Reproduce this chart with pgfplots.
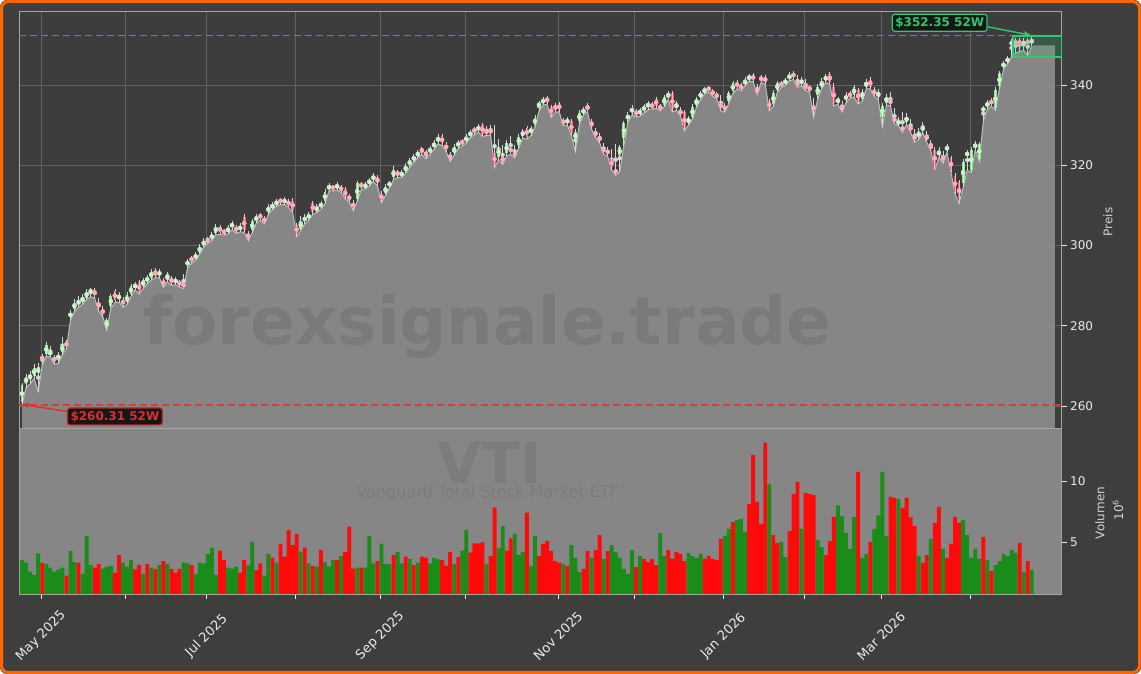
\documentclass[border=0pt]{standalone}
\usepackage{pgfplots}
\pgfplotsset{compat=1.18}
\usepackage{pgfplotstable}
\usepackage{fontspec}
\setmainfont{DejaVu Sans}
\usetikzlibrary{arrows.meta}

\definecolor{figbg}{RGB}{62,62,62}
\definecolor{axbg}{RGB}{61,61,61}
\definecolor{areagrey}{RGB}{134,134,134}
\definecolor{arealine}{RGB}{190,190,190}
\definecolor{gridc}{RGB}{98,98,98}
\definecolor{framec}{RGB}{165,165,165}
\definecolor{tickc}{RGB}{235,235,235}
\definecolor{orangeb}{RGB}{255,102,0}
\definecolor{vgreen}{RGB}{26,140,26}
\definecolor{vred}{RGB}{255,10,10}
\definecolor{cgreen}{RGB}{140,230,140}
\definecolor{cgreenin}{RGB}{205,240,205}
\definecolor{cred}{RGB}{245,85,120}
\definecolor{credin}{RGB}{255,175,190}
\definecolor{wickc}{RGB}{215,215,215}
\definecolor{hiG}{RGB}{46,200,110}
\definecolor{greendash}{RGB}{40,175,80}
\definecolor{loR}{RGB}{225,45,45}
\definecolor{reddash}{RGB}{215,60,60}
\definecolor{lblbg}{RGB}{22,22,22}
\definecolor{wmark}{RGB}{122,122,122}
\definecolor{wmarkb}{RGB}{124,124,124}

% all days: x open high low close
\pgfplotstableread{
x o h l c
-5 261.0 265.8 260.31 265.2
-4 265.6 267.9 264.6 267.3
-3 267.0 268.8 265.5 267.7
-2 267.5 270.5 266.9 269.5
-1 268.2 270.6 263.6 269.7
0 272.4 273.0 270.2 271.5
1 273.0 276.0 272.4 275.2
2 272.8 275.0 272.2 273.5
3 272.0 272.8 270.4 271.5
4 271.8 273.4 270.6 272.7
5 273.4 277.3 272.8 275.2
6 275.8 276.5 274.2 275.0
7 282.3 284.0 281.5 283.1
8 284.2 286.6 283.6 285.7
9 285.6 287.3 284.6 286.0
10 286.0 288.0 285.4 286.9
11 287.0 289.2 286.5 288.5
12 288.3 289.4 287.2 288.9
13 288.8 289.4 286.9 287.7
14 286.0 286.8 283.6 284.3
15 284.0 284.8 282.3 283.1
16 279.5 282.0 278.9 281.4
17 284.8 287.9 284.3 287.4
18 288.7 289.2 285.8 286.3
19 286.6 288.5 285.9 287.7
20 286.5 287.2 284.6 285.2
21 285.8 288.4 285.3 287.7
22 287.9 290.4 287.4 289.8
23 289.6 291.0 288.9 290.2
24 290.8 291.3 287.9 288.5
25 289.8 292.0 289.3 291.4
26 291.2 292.6 290.5 291.9
27 292.0 294.2 291.4 293.5
28 293.9 294.4 291.9 292.4
29 292.6 294.1 292.0 293.5
30 291.3 292.0 289.6 290.2
31 291.4 293.5 290.9 292.8
32 291.9 292.4 290.1 290.7
33 290.9 292.1 290.2 291.4
34 290.9 291.5 289.6 290.2
35 290.4 293.0 289.3 289.8
36 295.2 296.7 294.5 296.0
37 296.8 297.4 295.6 296.4
38 296.9 298.3 296.3 297.6
39 298.4 300.3 297.8 299.7
40 300.2 301.8 299.6 301.0
41 301.6 302.2 300.6 301.2
42 301.8 303.3 301.2 302.6
43 303.2 305.4 302.8 304.7
44 304.7 305.2 302.8 303.4
45 303.6 304.2 302.6 303.2
46 303.5 305.0 302.9 304.3
47 304.6 306.2 303.9 305.5
48 304.4 305.0 303.0 303.9
49 304.0 305.5 303.4 304.7
50 307.2 307.8 303.3 303.9
51 303.0 303.6 301.2 301.8
52 303.8 306.6 303.2 306.0
53 306.2 307.9 305.6 307.2
54 307.6 308.2 306.3 307.0
55 306.8 307.3 305.4 306.0
56 308.3 310.3 307.8 309.7
57 309.4 310.8 308.9 310.1
58 310.2 311.6 309.8 310.9
59 311.4 311.9 310.2 310.9
60 310.8 312.0 310.2 311.3
61 311.0 311.6 309.5 310.1
62 311.2 311.8 308.3 308.8
63 305.0 305.6 302.2 303.0
64 304.2 307.4 303.8 306.0
65 306.0 307.9 305.4 307.2
66 306.9 308.3 306.3 307.6
67 310.5 311.0 307.8 308.4
68 308.6 310.3 308.2 309.7
69 309.6 311.1 309.0 310.5
70 311.0 314.0 310.4 313.4
71 314.2 315.5 313.6 314.8
72 314.6 315.2 313.6 314.3
73 314.3 315.8 313.8 315.1
74 314.5 315.1 313.2 313.8
75 314.0 314.5 311.6 312.2
76 312.3 312.9 310.9 311.5
77 310.4 311.4 308.7 309.7
78 311.5 316.0 311.0 315.5
79 315.3 315.9 314.0 314.7
80 314.6 315.8 314.1 315.1
81 315.4 316.9 314.9 316.3
82 316.5 318.0 315.9 317.3
83 317.0 317.6 314.9 315.5
84 312.8 313.6 310.7 311.3
85 313.0 315.3 312.5 314.7
86 315.0 316.1 314.4 315.5
87 317.0 319.7 316.5 318.8
88 318.3 318.9 316.9 317.6
89 317.5 318.7 317.0 318.0
90 318.6 320.5 318.0 319.8
91 320.2 321.9 319.6 321.1
92 321.3 322.8 320.7 322.1
93 322.4 323.8 321.9 323.1
94 324.1 324.6 322.6 323.4
95 323.2 323.8 321.6 322.6
96 323.2 324.9 322.7 324.2
97 324.6 326.3 324.0 325.5
98 325.8 327.8 325.3 327.1
99 327.2 327.8 324.9 325.5
100 325.0 325.7 323.4 324.2
101 322.6 323.4 321.0 321.7
102 323.0 325.2 322.5 324.5
103 324.8 326.3 324.2 325.6
104 326.0 326.6 324.8 325.5
105 326.0 327.8 325.5 327.1
106 327.5 328.8 326.9 328.1
107 329.0 329.5 327.6 328.4
108 328.8 330.2 328.2 329.6
109 330.0 330.5 327.2 327.8
110 328.6 329.8 327.4 328.0
111 328.8 330.0 327.5 328.1
112 323.0 330.0 319.5 320.1
113 322.0 326.5 321.4 324.6
114 322.0 325.0 320.2 320.9
115 323.0 326.2 322.4 325.5
116 324.2 327.3 322.7 323.4
117 323.0 325.0 321.9 322.6
118 325.0 327.8 324.4 327.1
119 327.4 329.1 326.8 328.4
120 329.4 329.9 326.5 327.1
121 328.0 329.9 327.4 329.2
122 330.1 332.4 329.6 331.7
123 334.8 336.0 333.5 335.4
124 335.6 337.0 335.0 336.3
125 336.6 337.2 335.2 336.1
126 334.5 335.1 331.9 332.5
127 335.0 335.5 333.2 333.8
128 335.2 335.7 333.3 333.9
129 331.2 331.8 329.9 330.5
130 330.6 332.0 330.0 331.3
131 331.0 331.5 327.4 328.0
132 326.3 329.0 323.4 328.4
133 331.0 333.8 330.4 333.1
134 333.0 334.5 332.5 333.9
135 334.9 335.4 333.3 333.9
136 331.0 331.6 329.0 329.6
137 328.2 329.2 326.9 327.5
138 326.9 328.0 325.6 326.3
139 324.2 325.5 322.8 323.4
140 323.6 324.5 322.2 323.0
141 321.5 324.0 318.8 319.6
142 319.0 325.3 317.5 318.0
143 322.5 325.0 318.5 324.5
144 326.9 331.0 324.8 330.5
145 331.5 333.2 330.8 332.5
146 333.2 334.9 332.5 334.2
147 333.3 333.9 332.0 332.8
148 332.9 334.3 332.3 333.6
149 333.7 335.3 333.0 334.6
150 334.6 336.0 333.8 335.4
151 335.0 335.8 334.0 334.6
152 336.5 337.0 334.2 334.8
153 334.6 335.3 333.6 334.2
154 335.1 337.5 334.6 336.9
155 336.9 338.6 336.4 337.9
156 337.9 338.4 333.3 333.9
157 334.2 336.0 333.7 335.4
158 333.4 334.4 332.3 332.9
159 333.3 333.8 328.6 329.2
160 330.6 332.3 330.0 331.7
161 332.0 335.2 331.5 334.6
162 335.0 337.1 334.6 336.4
163 337.0 338.6 336.4 337.9
164 338.2 339.6 337.8 338.8
165 339.3 339.8 338.2 338.9
166 338.4 339.0 337.2 337.8
167 337.6 338.2 336.5 337.1
168 335.5 337.5 333.6 334.2
169 334.6 335.5 333.2 333.9
170 336.0 338.5 335.4 337.9
171 338.4 341.0 337.9 340.4
172 340.6 341.2 339.0 339.6
173 339.8 340.6 338.6 339.2
174 340.2 341.9 339.8 341.2
175 341.5 342.8 341.0 342.1
176 342.4 342.9 340.8 341.4
177 339.0 340.2 337.7 338.3
178 342.0 342.5 340.6 341.2
179 341.9 342.4 340.2 340.8
180 335.9 336.5 333.6 334.2
181 335.2 338.7 334.6 338.1
182 338.8 341.0 338.2 340.4
183 340.3 340.9 339.4 340.0
184 340.4 341.8 339.9 341.1
185 341.6 343.2 341.0 342.5
186 343.0 343.5 341.4 342.0
187 340.6 342.6 339.4 340.0
188 340.4 341.9 339.8 341.2
189 340.0 341.4 338.6 339.2
190 339.3 340.1 338.2 338.8
191 334.6 336.8 332.0 333.8
192 337.6 340.2 336.5 339.6
193 339.8 341.8 339.2 340.4
194 341.2 342.8 340.6 342.1
195 342.7 343.2 340.2 340.8
196 339.5 340.4 334.8 335.4
197 335.8 337.0 335.2 336.3
198 334.6 336.0 333.2 333.8
199 336.2 338.2 335.6 337.5
200 337.8 338.4 336.7 337.3
201 337.6 340.0 337.0 339.4
202 338.7 339.3 335.3 335.9
203 336.6 339.0 336.0 338.3
204 339.6 341.4 339.0 340.8
205 341.3 341.9 339.0 339.6
206 338.6 339.5 337.2 337.8
207 337.0 339.0 336.4 338.3
208 332.3 335.5 329.6 334.8
209 335.6 337.8 335.0 337.1
210 336.2 338.2 334.8 335.4
211 331.8 334.2 330.3 330.9
212 330.4 332.0 329.8 330.9
213 329.6 333.2 328.2 328.8
214 330.9 332.9 330.2 332.1
215 329.6 331.6 328.2 328.8
216 327.4 329.0 325.7 326.3
217 327.0 329.4 326.4 328.4
218 328.7 330.8 328.1 329.6
219 327.4 328.6 325.7 326.3
220 325.0 326.4 323.6 324.2
221 323.9 324.6 319.0 319.6
222 322.6 324.5 321.9 323.4
223 322.0 323.6 320.5 321.3
224 323.8 325.3 323.2 324.6
225 321.7 322.4 318.2 318.8
226 317.4 318.0 312.8 313.4
227 315.8 316.4 310.5 311.7
228 315.6 321.5 314.5 320.9
229 322.5 323.8 318.8 323.1
230 318.9 324.5 318.2 323.8
231 324.4 326.0 323.8 325.3
232 321.6 325.9 321.0 325.3
233 333.6 334.8 331.0 334.2
234 334.7 336.3 334.0 335.6
235 336.2 336.8 334.7 335.3
236 334.3 339.4 333.7 338.8
237 339.7 343.5 339.1 342.9
238 344.6 346.1 343.9 345.4
239 345.8 347.3 345.2 346.6
240 350.0 351.5 347.0 350.8
241 350.9 351.6 348.0 350.4
242 351.2 351.8 348.3 350.0
243 350.2 351.6 348.6 350.8
244 351.0 351.7 347.4 350.4
245 350.6 352.35 349.6 351.2
}\data

% rising candles: x open close
\pgfplotstableread{
x o c
-5 261.0 265.2
-4 265.6 267.3
-3 267.0 267.7
-2 267.5 269.5
-1 268.2 269.7
1 273.0 275.2
2 272.8 273.5
4 271.8 272.7
5 273.4 275.2
7 282.3 283.1
8 284.2 285.7
9 285.6 286.0
10 286.0 286.9
11 287.0 288.5
12 288.3 288.9
16 279.5 281.4
17 284.8 287.4
19 286.6 287.7
21 285.8 287.7
22 287.9 289.8
23 289.6 290.2
25 289.8 291.4
26 291.2 291.9
27 292.0 293.5
29 292.6 293.5
31 291.4 292.8
33 290.9 291.4
36 295.2 296.0
38 296.9 297.6
39 298.4 299.7
40 300.2 301.0
42 301.8 302.6
43 303.2 304.7
46 303.5 304.3
47 304.6 305.5
49 304.0 304.7
52 303.8 306.0
53 306.2 307.2
56 308.3 309.7
57 309.4 310.1
58 310.2 310.9
60 310.8 311.3
64 304.2 306.0
65 306.0 307.2
66 306.9 307.6
68 308.6 309.7
69 309.6 310.5
70 311.0 313.4
71 314.2 314.8
73 314.3 315.1
78 311.5 315.5
80 314.6 315.1
81 315.4 316.3
82 316.5 317.3
85 313.0 314.7
86 315.0 315.5
87 317.0 318.8
89 317.5 318.0
90 318.6 319.8
91 320.2 321.1
92 321.3 322.1
93 322.4 323.1
96 323.2 324.2
97 324.6 325.5
98 325.8 327.1
102 323.0 324.5
103 324.8 325.6
105 326.0 327.1
106 327.5 328.1
108 328.8 329.6
113 322.0 324.6
115 323.0 325.5
118 325.0 327.1
119 327.4 328.4
121 328.0 329.2
122 330.1 331.7
123 334.8 335.4
124 335.6 336.3
130 330.6 331.3
132 326.3 328.4
133 331.0 333.1
134 333.0 333.9
143 322.5 324.5
144 326.9 330.5
145 331.5 332.5
146 333.2 334.2
148 332.9 333.6
149 333.7 334.6
150 334.6 335.4
154 335.1 336.9
155 336.9 337.9
157 334.2 335.4
160 330.6 331.7
161 332.0 334.6
162 335.0 336.4
163 337.0 337.9
164 338.2 338.8
170 336.0 337.9
171 338.4 340.4
174 340.2 341.2
175 341.5 342.1
181 335.2 338.1
182 338.8 340.4
184 340.4 341.1
185 341.6 342.5
188 340.4 341.2
192 337.6 339.6
193 339.8 340.4
194 341.2 342.1
197 335.8 336.3
199 336.2 337.5
201 337.6 339.4
203 336.6 338.3
204 339.6 340.8
207 337.0 338.3
208 332.3 334.8
209 335.6 337.1
212 330.4 330.9
214 330.9 332.1
217 327.0 328.4
218 328.7 329.6
222 322.6 323.4
224 323.8 324.6
228 315.6 320.9
229 322.5 323.1
230 318.9 323.8
231 324.4 325.3
232 321.6 325.3
233 333.6 334.2
234 334.7 335.6
236 334.3 338.8
237 339.7 342.9
238 344.6 345.4
239 345.8 346.6
240 350.0 350.8
243 350.2 350.8
245 350.6 351.2
}\updata

% falling candles: x open close
\pgfplotstableread{
x o c
0 272.4 271.5
3 272.0 271.5
6 275.8 275.0
13 288.8 287.7
14 286.0 284.3
15 284.0 283.1
18 288.7 286.3
20 286.5 285.2
24 290.8 288.5
28 293.9 292.4
30 291.3 290.2
32 291.9 290.7
34 290.9 290.2
35 290.4 289.8
37 296.8 296.4
41 301.6 301.2
44 304.7 303.4
45 303.6 303.2
48 304.4 303.9
50 307.2 303.9
51 303.0 301.8
54 307.6 307.0
55 306.8 306.0
59 311.4 310.9
61 311.0 310.1
62 311.2 308.8
63 305.0 303.0
67 310.5 308.4
72 314.6 314.3
74 314.5 313.8
75 314.0 312.2
76 312.3 311.5
77 310.4 309.7
79 315.3 314.7
83 317.0 315.5
84 312.8 311.3
88 318.3 317.6
94 324.1 323.4
95 323.2 322.6
99 327.2 325.5
100 325.0 324.2
101 322.6 321.7
104 326.0 325.5
107 329.0 328.4
109 330.0 327.8
110 328.6 328.0
111 328.8 328.1
112 323.0 320.1
114 322.0 320.9
116 324.2 323.4
117 323.0 322.6
120 329.4 327.1
125 336.6 336.1
126 334.5 332.5
127 335.0 333.8
128 335.2 333.9
129 331.2 330.5
131 331.0 328.0
135 334.9 333.9
136 331.0 329.6
137 328.2 327.5
138 326.9 326.3
139 324.2 323.4
140 323.6 323.0
141 321.5 319.6
142 319.0 318.0
147 333.3 332.8
151 335.0 334.6
152 336.5 334.8
153 334.6 334.2
156 337.9 333.9
158 333.4 332.9
159 333.3 329.2
165 339.3 338.9
166 338.4 337.8
167 337.6 337.1
168 335.5 334.2
169 334.6 333.9
172 340.6 339.6
173 339.8 339.2
176 342.4 341.4
177 339.0 338.3
178 342.0 341.2
179 341.9 340.8
180 335.9 334.2
183 340.3 340.0
186 343.0 342.0
187 340.6 340.0
189 340.0 339.2
190 339.3 338.8
191 334.6 333.8
195 342.7 340.8
196 339.5 335.4
198 334.6 333.8
200 337.8 337.3
202 338.7 335.9
205 341.3 339.6
206 338.6 337.8
210 336.2 335.4
211 331.8 330.9
213 329.6 328.8
215 329.6 328.8
216 327.4 326.3
219 327.4 326.3
220 325.0 324.2
221 323.9 319.6
223 322.0 321.3
225 321.7 318.8
226 317.4 313.4
227 315.8 311.7
235 336.2 335.3
241 350.9 350.4
242 351.2 350.0
244 351.0 350.4
}\downdata

% volume, green bars (million)
\pgfplotstableread{
x v
-5 3.52
-4 3.31
-3 2.57
-2 2.30
-1 4.07
1 3.20
2 2.90
3 2.57
4 2.76
5 2.90
7 4.26
8 3.36
10 2.38
11 5.49
12 3.11
15 2.81
16 2.98
17 3.03
20 3.31
21 2.98
22 3.52
25 2.38
27 2.90
29 3.11
31 3.20
35 3.33
36 3.25
38 2.38
39 3.31
40 3.25
41 4.02
42 4.54
43 2.30
46 2.90
47 2.81
48 2.98
51 3.11
52 5.00
55 2.24
56 4.02
58 3.31
64 4.21
66 3.25
68 2.98
70 3.33
71 2.98
72 3.52
74 3.85
78 2.90
80 2.90
81 5.49
82 3.25
84 4.84
85 3.20
86 3.17
88 4.18
89 3.25
91 3.61
93 3.31
96 3.25
97 3.69
98 3.58
102 3.20
104 4.29
105 5.98
110 3.20
113 4.48
114 6.31
117 5.66
118 3.93
119 4.18
121 3.03
122 5.49
129 3.20
131 4.75
132 3.69
133 2.54
136 3.69
139 3.61
141 4.75
142 4.18
143 3.69
144 2.79
145 2.38
146 4.34
148 3.85
153 5.74
154 3.85
160 4.10
161 3.85
162 3.69
163 4.02
169 5.49
170 6.07
172 6.80
173 6.89
174 5.82
180 9.75
183 5.00
184 3.77
188 6.07
192 5.16
193 4.59
197 8.00
198 7.10
199 5.74
200 4.43
201 7.05
203 3.69
204 4.02
206 6.07
207 7.19
208 10.74
209 5.49
212 8.52
217 3.85
220 5.25
223 4.43
228 6.80
229 5.57
230 3.69
231 4.43
232 3.61
234 3.52
236 3.11
237 3.44
238 4.02
239 3.85
240 4.34
241 4.10
243 2.54
245 2.71
}\vup

% volume, red bars (million)
\pgfplotstableread{
x v
0 3.31
6 2.24
9 3.31
13 2.90
14 3.20
18 2.49
19 3.93
23 2.76
24 3.11
26 3.20
28 2.79
30 3.44
32 2.79
33 2.49
34 2.79
37 3.11
44 4.29
45 3.52
49 2.49
50 3.52
53 2.70
54 3.25
57 3.72
59 4.84
60 3.80
61 5.98
62 4.75
63 5.66
65 4.54
67 3.03
69 4.34
73 3.52
75 4.18
76 6.26
77 2.81
79 2.90
83 3.44
87 3.93
90 3.80
92 3.11
94 3.80
95 3.72
99 3.52
100 3.06
101 4.18
103 3.77
106 4.13
107 4.89
108 4.89
109 4.97
111 3.85
112 7.84
115 4.29
116 5.30
120 7.40
123 3.85
124 4.84
125 5.08
126 4.26
127 3.44
128 3.33
130 3.03
134 2.79
135 4.26
137 4.34
138 5.57
140 4.26
147 2.95
149 3.61
150 3.36
151 3.61
152 3.11
155 4.34
156 3.61
157 4.18
158 4.02
159 3.44
164 3.61
165 3.85
166 3.61
167 3.52
168 5.25
171 6.64
175 8.11
176 12.13
177 8.28
178 6.48
179 13.14
181 5.57
182 4.92
185 5.90
186 8.93
187 9.92
189 9.02
190 8.93
191 8.85
194 3.93
195 5.08
196 7.05
202 10.74
205 5.00
210 8.69
211 8.61
213 7.79
214 8.61
215 7.02
216 6.31
218 3.28
219 3.93
221 6.56
222 7.87
224 3.69
225 4.84
226 7.05
227 6.56
233 5.41
235 2.62
242 4.92
244 3.44
}\vdown

\begin{document}
\begin{tikzpicture}
\useasboundingbox (0,0) rectangle (1141pt,674pt);
\fill[white] (0,0) rectangle (1141pt,674pt);
\fill[figbg, rounded corners=7pt] (0,0) rectangle (1141pt,674pt);

% ---------------- price axis ----------------
\begin{axis}[
  at={(19.3pt,246pt)}, anchor=south west,
  width=1042.4pt, height=417pt, scale only axis,
  xmin=-5.67, xmax=252.4, ymin=254.52, ymax=358.44,
  clip mode=individual,
  axis background/.style={fill=axbg},
  axis line style={draw=framec, line width=0.8pt},
  xtick={-0.3,20.7,40.7,62.7,83.7,104.7,127.7,146.7,168.7,188.7,207.7,229.7},
  xticklabels={},
  xmajorticks=false,
  ytick={260,280,300,320,340},
  ytick pos=right, yticklabel pos=right,
  xmajorgrids, ymajorgrids,
  major grid style={draw=gridc, line width=0.7pt},
  tick align=outside,
  major tick length=5pt,
  tick style={draw=tickc, line width=0.8pt},
  yticklabel style={font=\fontsize{12}{14}\selectfont, text=tickc},
  /pgf/number format/assume math mode=true,
]
% area under the lows
\addplot[fill=areagrey, draw=none] table[x=x,y=l]{\data} \closedcycle;
\addplot[fill=areagrey, draw=none] coordinates {(245,349.6) (245.6,349.9) (250.7,349.9)} \closedcycle;
\addplot[draw=arealine, line width=1pt] table[x=x,y=l]{\data};

% watermark (solid tone, no transparency)
\node[text=wmark, font=\bfseries\fontsize{66}{66}\selectfont] at (axis cs:110.3,279.7) {forexsignale.trade};

% 52W lines
\draw[draw=greendash, line width=1.8pt, dash pattern=on 7pt off 4pt] (axis cs:-5.67,352.35) -- (axis cs:252.4,352.35);
\draw[draw=reddash, line width=1.5pt, dash pattern=on 7pt off 4pt] (axis cs:-5.67,260.31) -- (axis cs:252.4,260.31);

% wicks
\addplot[wickc, only marks, mark=none,
  error bars/.cd, y dir=both, y explicit, error mark=none,
  error bar style={draw=wickc, line width=0.8pt}]
  table[x=x, y expr={(\thisrow{h}+\thisrow{l})/2}, y error expr={(\thisrow{h}-\thisrow{l})/2}]{\data};
% rising bodies
\addplot[cgreen, only marks, mark=none,
  error bars/.cd, y dir=both, y explicit, error mark=none,
  error bar style={draw=cgreen, line width=2.8pt}]
  table[x=x, y expr={(\thisrow{o}+\thisrow{c})/2}, y error expr={(\thisrow{c}-\thisrow{o})/2}]{\updata};
\addplot[cgreenin, only marks, mark=none,
  error bars/.cd, y dir=both, y explicit, error mark=none,
  error bar style={draw=cgreenin, line width=1.0pt}]
  table[x=x, y expr={(\thisrow{o}+\thisrow{c})/2}, y error expr={(\thisrow{c}-\thisrow{o})/2}]{\updata};
% falling bodies
\addplot[cred, only marks, mark=none,
  error bars/.cd, y dir=both, y explicit, error mark=none,
  error bar style={draw=cred, line width=2.8pt}]
  table[x=x, y expr={(\thisrow{o}+\thisrow{c})/2}, y error expr={(\thisrow{o}-\thisrow{c})/2}]{\downdata};
\addplot[credin, only marks, mark=none,
  error bars/.cd, y dir=both, y explicit, error mark=none,
  error bar style={draw=credin, line width=1.0pt}]
  table[x=x, y expr={(\thisrow{o}+\thisrow{c})/2}, y error expr={(\thisrow{o}-\thisrow{c})/2}]{\downdata};

% labels
\node[fill=lblbg, draw=hiG, line width=1.2pt, rounded corners=2.5pt, text=hiG,
  inner xsep=3pt, inner ysep=3pt, font=\bfseries\fontsize{12}{13}\selectfont] (hl) at (axis cs:222.2,355.5) {\$352.35 52W};
\draw[-{Stealth[length=8pt,width=6pt]}, draw=hiG, line width=1.4pt] ([yshift=-4pt]hl.east) -- (axis cs:244.8,352.4);
\node[fill=lblbg, draw=loR!85!black, line width=1.2pt, rounded corners=2.5pt, text=loR,
  inner xsep=3pt, inner ysep=3pt, font=\bfseries\fontsize{12}{13}\selectfont] (ll) at (axis cs:18.0,257.4) {\$260.31 52W};
\draw[-{Stealth[length=8pt,width=6pt]}, draw=loR, line width=1.4pt] ([yshift=5pt]ll.west) -- (axis cs:-5.1,260.4);

\node[rotate=90, text=tickc!90!black, font=\fontsize{12}{14}\selectfont] at (rel axis cs:1.0444,0.494) {Preis};

% current range box (last: semi-transparent)
\draw[draw=hiG, line width=1.5pt, fill=hiG, fill opacity=0.18] (axis cs:240.3,347.0) rectangle (axis cs:252.4,352.2);
\end{axis}

% ---------------- volume axis ----------------
\begin{axis}[
  at={(19.3pt,80pt)}, anchor=south west,
  width=1042.4pt, height=166pt, scale only axis,
  xmin=-5.67, xmax=252.4, ymin=0.74, ymax=14.34,
  clip mode=individual,
  axis background/.style={fill=areagrey},
  axis line style={draw=framec, line width=0.8pt},
  xtick={-0.3,20.7,40.7,62.7,83.7,104.7,127.7,146.7,168.7,188.7,207.7,229.7},
  xticklabels={May 2025,,Jul 2025,,Sep 2025,,Nov 2025,,Jan 2026,,Mar 2026,},
  xtick pos=bottom,
  ytick={5,10},
  ytick pos=right, yticklabel pos=right,
  tick align=outside,
  major tick length=5pt,
  tick style={draw=tickc, line width=0.8pt},
  yticklabel style={font=\fontsize{12}{14}\selectfont, text=tickc},
  xticklabel style={font=\fontsize{13}{15}\selectfont, text=tickc, yshift=-37pt, rotate=45, anchor=center},
  /pgf/number format/assume math mode=true,
]
\node[text=wmarkb, font=\bfseries\fontsize{57}{57}\selectfont] at (axis cs:110.8,11.5) {VTI};
\node[text=wmarkb, font=\fontsize{16}{18}\selectfont] at (axis cs:110.3,9.02) {Vanguard Total Stock Market ETF};

\addplot[ybar, bar width=0.95, bar shift=0pt, fill=vgreen, draw=none] table[x=x,y=v]{\vup};
\addplot[ybar, bar width=0.95, bar shift=0pt, fill=vred, draw=none] table[x=x,y=v]{\vdown};

\node[rotate=90, text=tickc!90!black, font=\fontsize{12}{14}\selectfont] at (rel axis cs:1.0367,0.488) {Volumen};
\node[rotate=90, text=tickc!90!black, font=\fontsize{12}{14}\selectfont] at (rel axis cs:1.054,0.506) {10\textsuperscript{6}};
\end{axis}

\draw[orangeb, line width=3pt, rounded corners=7pt] (1.5pt,1.5pt) rectangle (1139.5pt,672.5pt);
\end{tikzpicture}
\end{document}
